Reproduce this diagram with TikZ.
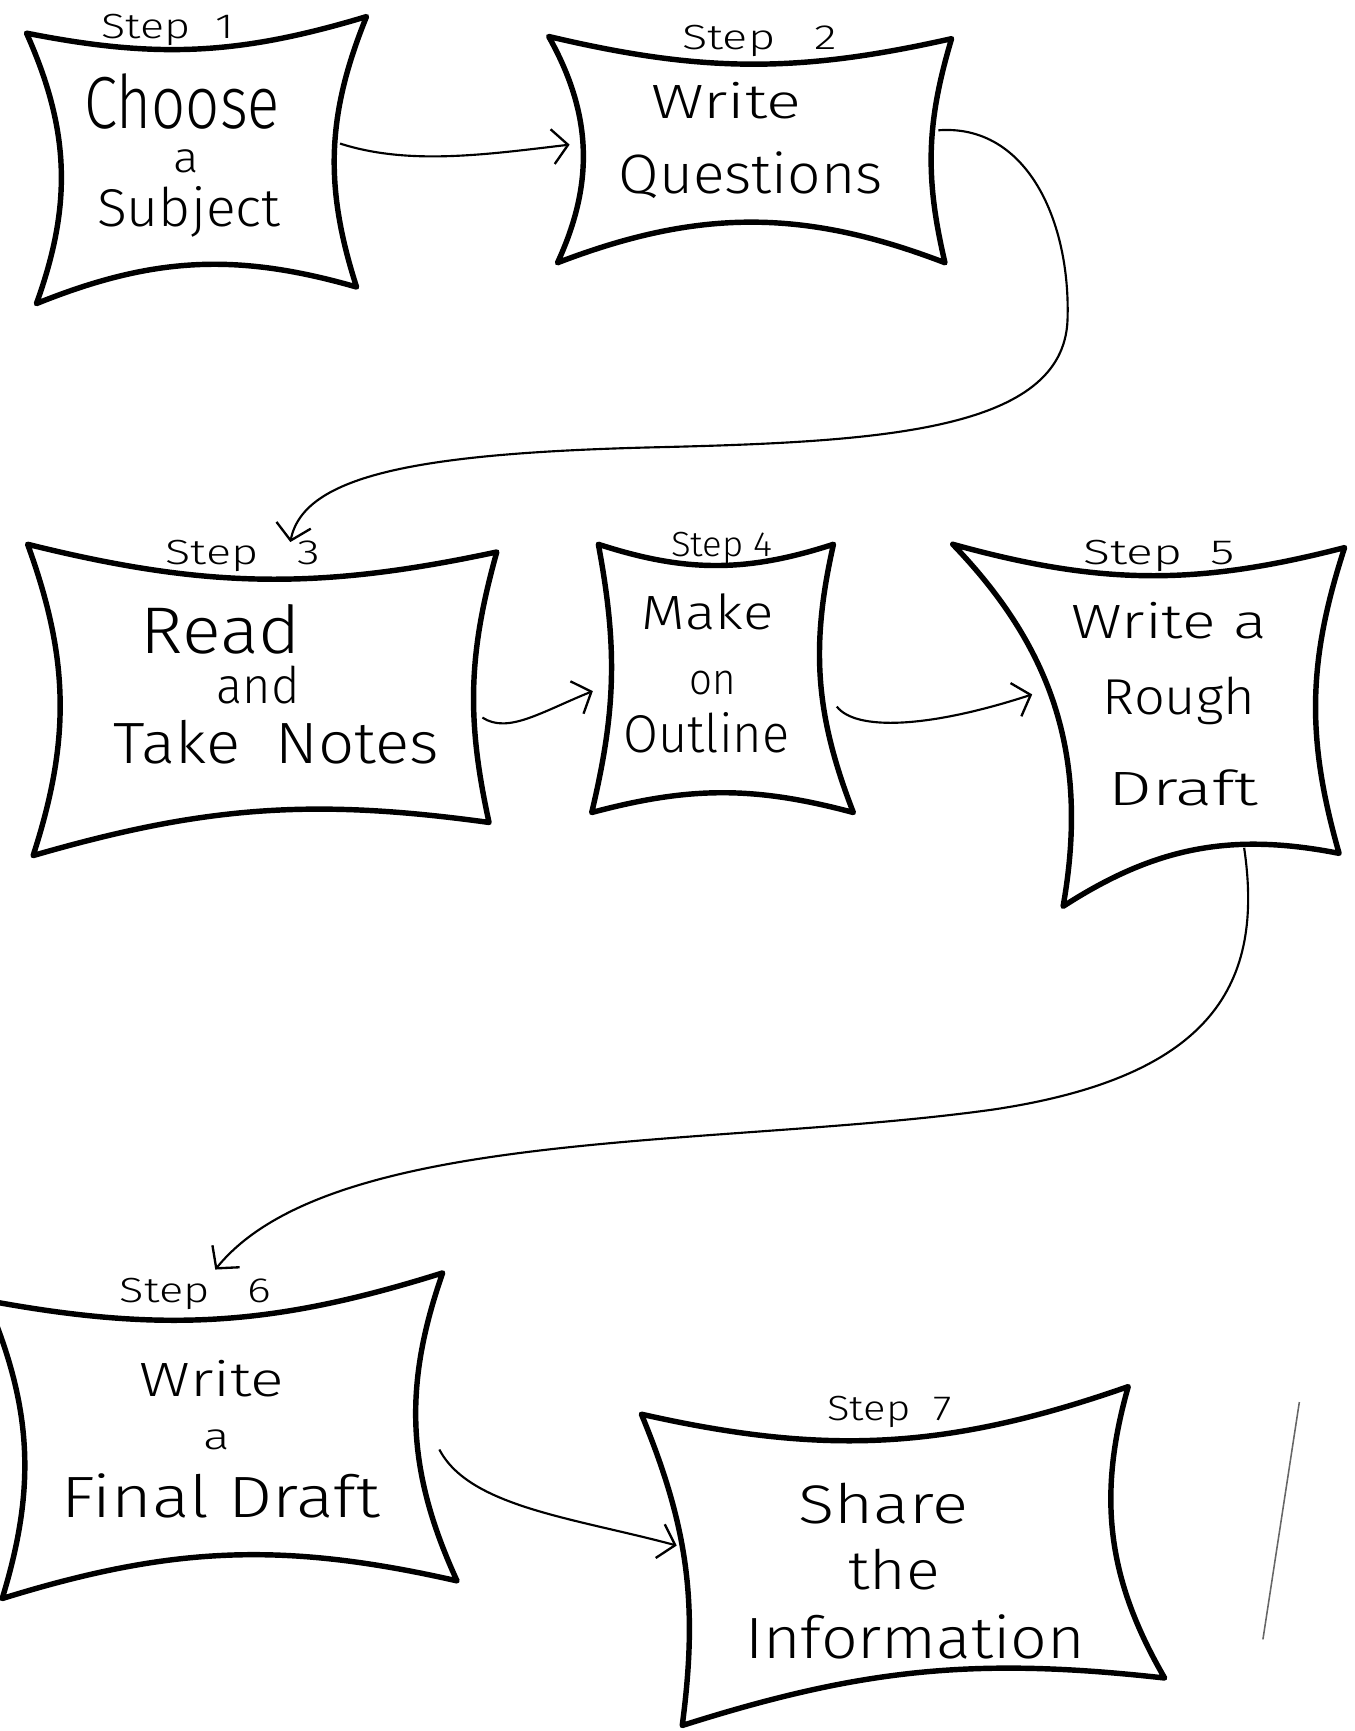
\documentclass[tikz,border=0pt]{standalone}
\usepackage{fontspec}
\usepackage{graphicx}
\setmainfont{Fira Sans Light}
\usetikzlibrary{arrows.meta}

% one line of lettering, stretched to a given width (cm) at a given size (pt)
\newcommand\handtext[3]{\resizebox{#1cm}{\height}{\fontsize{#2pt}{#2pt}\selectfont #3}}

\tikzset{
  boxline/.style={line width=1.4pt, line cap=round, line join=round},
  conn/.style={line width=0.55pt, -{Straight Barb[length=4pt,width=9pt,line width=0.6pt]}},
  lbl/.style={anchor=base, inner sep=0pt, outer sep=0pt},
}

% concave four-sided box: name, corners TL TR BR BL, bends top right bottom left
\newcommand\pinchbox[9]{%
  \coordinate (#1tl) at #2; \coordinate (#1tr) at #3;
  \coordinate (#1br) at #4; \coordinate (#1bl) at #5;
  \draw[boxline] (#1tl) to[bend right=#6] (#1tr) to[bend right=#7] (#1br)
     to[bend right=#8] (#1bl) to[bend right=#9] (#1tl) -- cycle;}

\begin{document}
\begin{tikzpicture}[x=0.01cm,y=-0.01cm]
\fill[white] (0,0) rectangle (1227,1568);
\useasboundingbox (0,0) rectangle (1227,1568);
\clip (0,0) rectangle (1227,1568);

% boxes
\pinchbox{b1}{(24,30)}{(332,15)}{(323,260)}{(33,275)}{14}{20}{19}{22}
\pinchbox{b2}{(497,33)}{(862,35)}{(856,238)}{(505,238)}{13}{15}{21}{27}
\pinchbox{b3}{(25,493)}{(450,500)}{(443,745)}{(30,775)}{13}{14}{12}{19}
\pinchbox{b4}{(542,493)}{(755,493)}{(773,736)}{(536,736)}{18}{17}{15}{12}
\pinchbox{b5}{(863,493)}{(1218,496)}{(1213,773)}{(963,821)}{15}{17}{22}{27}
\pinchbox{b6}{(-12,1178)}{(401,1153)}{(414,1432)}{(2,1448)}{14}{22}{15}{20}
\pinchbox{b7}{(581,1281)}{(1022,1256)}{(1055,1520)}{(618,1563)}{16}{23}{12}{15}

% step labels
\node[lbl] (s1) at (152,35)   {\handtext{1.20}{9}{Step\ \ 1}};
\node[lbl] (s2) at (688,45)   {\handtext{1.40}{9}{Step\ \ \ 2}};
\node[lbl] (s3) at (220,511)  {\handtext{1.40}{9}{Step\ \ \ 3}};
\node[lbl] (s4) at (654,504)  {\handtext{0.92}{9}{Step 4}};
\node[lbl] (s5) at (1050,511) {\handtext{1.37}{9}{Step\ \ 5}};
\node[lbl] (s6) at (177,1180) {\handtext{1.37}{9}{Step\ \ \ 6}};
\node[lbl] (s7) at (806,1287) {\handtext{1.13}{9}{Step\ \ 7}};

% box texts
\node[lbl] (t1a) at (165,116) {\handtext{1.77}{19}{Choose}};
\node[lbl] (t1b) at (169,156) {\handtext{0.23}{11}{a}};
\node[lbl] (t1c) at (171,205) {\handtext{1.66}{13.7}{Subject}};

\node[lbl] (t2a) at (658,107) {\handtext{1.36}{12.4}{Write}};
\node[lbl] (t2b) at (680,175) {\handtext{2.39}{14.3}{Questions}};

\node[lbl] (t3a) at (200,592) {\handtext{1.45}{17}{Read}};
\node[lbl] (t3b) at (234,637) {\handtext{0.75}{13}{and}};
\node[lbl] (t3c) at (250,692) {\handtext{2.95}{15}{Take\ \ Notes}};

\node[lbl] (t4a) at (641,570) {\handtext{1.19}{12.4}{Make}};
\node[lbl] (t4b) at (646,629) {\handtext{0.42}{11.3}{on}};
\node[lbl] (t4c) at (640,682) {\handtext{1.50}{13.7}{Outline}};

\node[lbl] (t5a) at (1059,578) {\handtext{1.77}{12.4}{Write a}};
\node[lbl] (t5b) at (1068,647) {\handtext{1.38}{13}{Rough}};
\node[lbl] (t5c) at (1072,730) {\handtext{1.36}{12.4}{Draft}};

\node[lbl] (t6a) at (192,1265) {\handtext{1.31}{12.4}{Write}};
\node[lbl] (t6b) at (196,1313) {\handtext{0.24}{9.5}{a}};
\node[lbl] (t6c) at (200,1375) {\handtext{2.88}{15}{Final Draft}};

\node[lbl] (t7a) at (800,1380) {\handtext{1.54}{14}{Share}};
\node[lbl] (t7b) at (810,1440) {\handtext{0.83}{14}{the}};
\node[lbl] (t7c) at (829,1502) {\handtext{3.08}{15}{Information}};

% connector ends
\coordinate (a12s) at (308,130);  \coordinate (a12e) at (516,131);
\coordinate (a23s) at (850,118);  \coordinate (a23e) at (263,491);
\coordinate (a34s) at (437,650);  \coordinate (a34e) at (537,626);
\coordinate (a45s) at (758,640);  \coordinate (a45e) at (935,629);
\coordinate (a56s) at (1127,768); \coordinate (a56e) at (195,1150);
\coordinate (a67s) at (398,1313); \coordinate (a67e) at (613,1400);

% connectors
\draw[conn] (a12s) .. controls (370,150) and (440,140) .. (a12e);
\draw[conn] (a23s) .. controls (930,112) and (970,200) .. (967,290)
   .. controls (963,390) and (800,400) .. (600,405)
   .. controls (380,410) and (275,430) .. (a23e);
\draw[conn] (a34s) .. controls (460,665) and (490,645) .. (a34e);
\draw[conn] (a45s) .. controls (775,662) and (840,660) .. (a45e);
\draw[conn] (a56s) .. controls (1145,890) and (1100,975) .. (900,1005)
   .. controls (650,1040) and (300,1020) .. (a56e);
\draw[conn] (a67s) .. controls (425,1365) and (520,1375) .. (a67e);

% faint stroke near the right margin
\coordinate (m1) at (1177,1270); \coordinate (m2) at (1144,1485);
\draw[line width=0.4pt, black!60] (m1) -- (m2);
\end{tikzpicture}
\end{document}
